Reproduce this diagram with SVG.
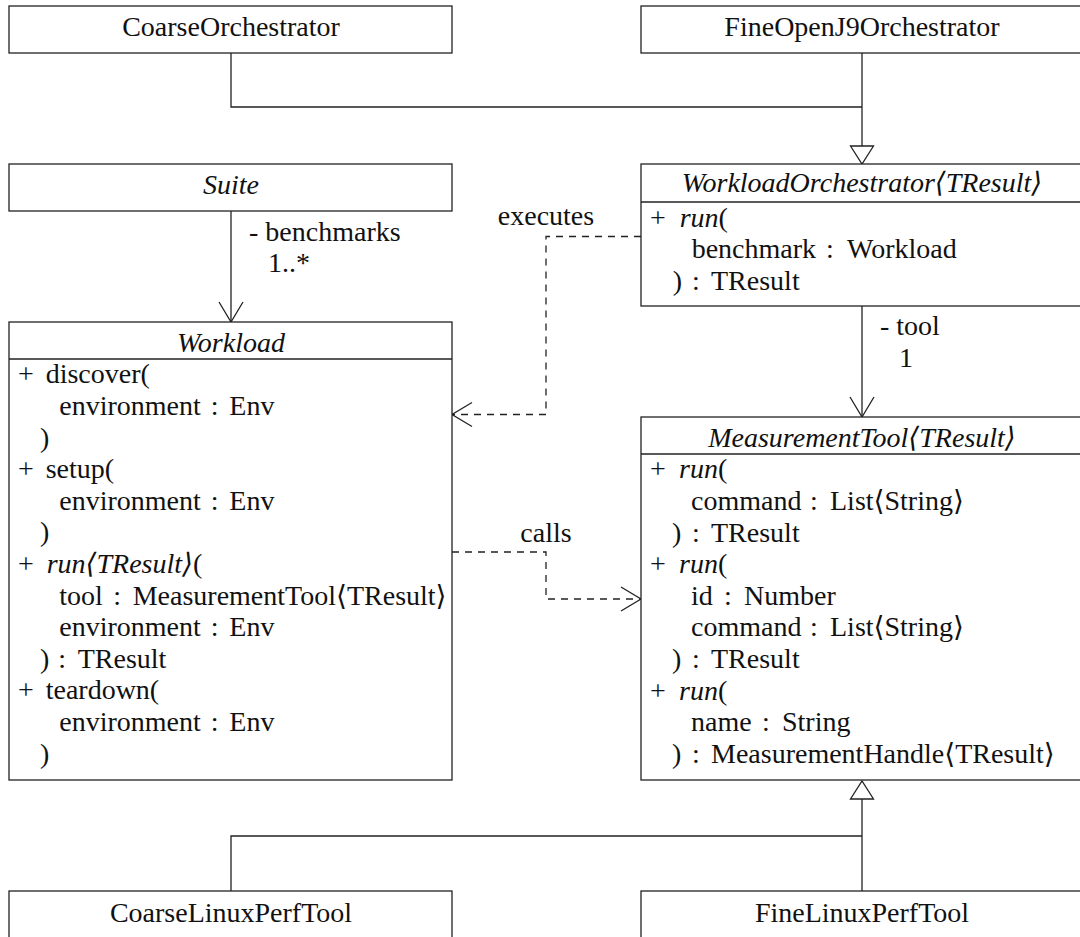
<svg xmlns="http://www.w3.org/2000/svg" width="1080" height="937" viewBox="0 0 1080 937" font-family="'Liberation Serif', 'DejaVu Serif', serif">
  <style>
    text { font-family: 'Liberation Serif', 'DejaVu Serif', serif; font-size: 28px; fill: #111; }
    .i { font-style: italic; }
    .m { text-anchor: middle; }
    .box { fill: #fff; stroke: #222; stroke-width: 1.3; }
    .div { stroke: #222; stroke-width: 1.3; }
    .edge { fill: none; stroke: #222; stroke-width: 1.3; }
    .dash { stroke-dasharray: 7 6; }
  </style>
  <defs>
    <!-- open arrowhead for associations and dependencies -->
    <marker id="open" viewBox="-22 -14 24 28" markerWidth="24" markerHeight="28" refX="0" refY="0" orient="auto" markerUnits="userSpaceOnUse">
      <path d="M-20,-12 L0,0 L-20,12" fill="none" stroke="#222" stroke-width="1.3"/>
    </marker>
    <!-- hollow triangle for generalization -->
    <marker id="gen" viewBox="-20 -14 22 28" markerWidth="22" markerHeight="28" refX="0" refY="0" orient="auto" markerUnits="userSpaceOnUse">
      <path d="M-18,-11.5 L0,0 L-18,11.5 Z" fill="#fff" stroke="#222" stroke-width="1.3"/>
    </marker>
  </defs>

  <!-- connectors -->
  <g id="connectors">
    <path class="edge" d="M231,53 V107 H862"/>
    <path class="edge" d="M862,53 V164" marker-end="url(#gen)"/>
    <path class="edge" d="M231,211 V322" marker-end="url(#open)"/>
    <path class="edge" d="M862,306 V417" marker-end="url(#open)"/>
    <path class="edge dash" d="M641,236.5 H546 V414.5 H452" marker-end="url(#open)"/>
    <path class="edge dash" d="M452,552 H546 V599 H641" marker-end="url(#open)"/>
    <path class="edge" d="M231,891 V836 H862"/>
    <path class="edge" d="M862,891 V781" marker-end="url(#gen)"/>
    <text x="249" y="241">- benchmarks</text>
    <text x="268" y="272">1..*</text>
    <text x="880" y="335">- tool</text>
    <text x="899" y="366.5">1</text>
    <text class="m" x="546" y="225">executes</text>
    <text class="m" x="546" y="541.5">calls</text>
  </g>

  <g id="CoarseOrchestrator">
    <rect class="box" x="9" y="6" width="443" height="47"/>
    <text class="m" x="231" y="36">CoarseOrchestrator</text>
  </g>

  <g id="FineOpenJ9Orchestrator">
    <rect class="box" x="641" y="6" width="445" height="47"/>
    <text class="m" x="862" y="36">FineOpenJ9Orchestrator</text>
  </g>

  <g id="Suite">
    <rect class="box" x="9" y="164" width="443" height="47"/>
    <text class="m i" x="231" y="194">Suite</text>
  </g>

  <g id="WorkloadOrchestrator">
    <rect class="box" x="641" y="164" width="445" height="142"/>
    <line class="div" x1="641" y1="202" x2="1086" y2="202"/>
    <text class="m i" x="862" y="192">WorkloadOrchestrator⟨TResult⟩</text>
    <text x="650" y="226.7">+ <tspan x="679.7" class="i">run</tspan>(</text>
    <text y="258.3"><tspan x="691.7">benchmark</tspan><tspan x="826">:</tspan><tspan x="847">Workload</tspan></text>
    <text y="289.9"><tspan x="672.8">)</tspan><tspan x="692">:</tspan><tspan x="711">TResult</tspan></text>
  </g>

  <g id="Workload">
    <rect class="box" x="9" y="322" width="443" height="458"/>
    <line class="div" x1="9" y1="359" x2="452" y2="359"/>
    <text class="m i" x="231" y="352">Workload</text>
    <text y="383.3"><tspan x="18">+</tspan><tspan x="45.7">discover(</tspan></text>
    <text y="414.9"><tspan x="59.3">environment</tspan><tspan x="210.7">:</tspan><tspan x="229.3">Env</tspan></text>
    <text x="40" y="446.5">)</text>
    <text y="478.1"><tspan x="18">+</tspan><tspan x="45.7">setup(</tspan></text>
    <text y="509.7"><tspan x="59.3">environment</tspan><tspan x="210.7">:</tspan><tspan x="229.3">Env</tspan></text>
    <text x="40" y="541.3">)</text>
    <text y="572.9"><tspan x="18">+</tspan><tspan x="46.7" class="i">run⟨TResult⟩</tspan>(</text>
    <text y="604.5"><tspan x="59.3">tool</tspan><tspan x="113.3">:</tspan><tspan x="132.7">MeasurementTool⟨TResult⟩</tspan></text>
    <text y="636.1"><tspan x="59.3">environment</tspan><tspan x="210.7">:</tspan><tspan x="229.3">Env</tspan></text>
    <text y="667.7"><tspan x="40">)</tspan><tspan x="58.3">:</tspan><tspan x="77.7">TResult</tspan></text>
    <text y="699.3"><tspan x="18">+</tspan><tspan x="45.7">teardown(</tspan></text>
    <text y="730.9"><tspan x="59.3">environment</tspan><tspan x="210.7">:</tspan><tspan x="229.3">Env</tspan></text>
    <text x="40" y="762.5">)</text>
  </g>

  <g id="MeasurementTool">
    <rect class="box" x="641" y="417" width="445" height="363"/>
    <line class="div" x1="641" y1="454" x2="1086" y2="454"/>
    <text class="m i" x="862" y="447">MeasurementTool⟨TResult⟩</text>
    <text y="478.3"><tspan x="650">+</tspan><tspan x="679" class="i">run</tspan>(</text>
    <text y="509.9"><tspan x="691">command</tspan><tspan x="810">:</tspan><tspan x="830">List⟨String⟩</tspan></text>
    <text y="541.5"><tspan x="672">)</tspan><tspan x="692">:</tspan><tspan x="711">TResult</tspan></text>
    <text y="573.1"><tspan x="650">+</tspan><tspan x="679" class="i">run</tspan>(</text>
    <text y="604.7"><tspan x="691">id</tspan><tspan x="724">:</tspan><tspan x="744">Number</tspan></text>
    <text y="636.3"><tspan x="691">command</tspan><tspan x="810">:</tspan><tspan x="830">List⟨String⟩</tspan></text>
    <text y="667.9"><tspan x="672">)</tspan><tspan x="692">:</tspan><tspan x="711">TResult</tspan></text>
    <text y="699.5"><tspan x="650">+</tspan><tspan x="679" class="i">run</tspan>(</text>
    <text y="731.1"><tspan x="691">name</tspan><tspan x="762">:</tspan><tspan x="782">String</tspan></text>
    <text y="762.7"><tspan x="672">)</tspan><tspan x="692">:</tspan><tspan x="711">MeasurementHandle⟨TResult⟩</tspan></text>
  </g>

  <g id="CoarseLinuxPerfTool">
    <rect class="box" x="9" y="891" width="443" height="50"/>
    <text class="m" x="231" y="922">CoarseLinuxPerfTool</text>
  </g>

  <g id="FineLinuxPerfTool">
    <rect class="box" x="641" y="891" width="445" height="50"/>
    <text class="m" x="862" y="922">FineLinuxPerfTool</text>
  </g>
</svg>
